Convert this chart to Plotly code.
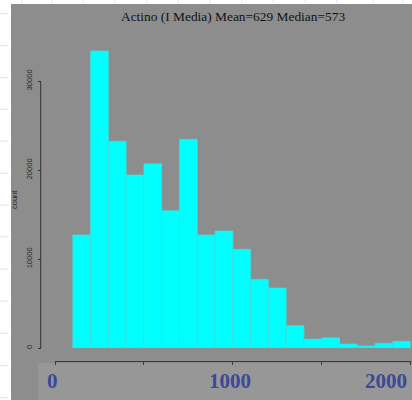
import plotly.graph_objects as go

# ---- data ----
bin_starts = [100, 200, 300, 400, 500, 600, 700, 800, 900, 1000,
              1100, 1200, 1300, 1400, 1500, 1600, 1700, 1800, 1900]
counts = [12700, 33370, 23230, 19440, 20700, 15430, 23450, 12700, 13150, 11090,
          7720, 6740, 2510, 1000, 1150, 450, 230, 530, 750]
bin_width = 100
title_text = "Actino (I Media) Mean=629 Median=573"
y_tick_vals = [0, 10000, 20000, 30000]
y_tick_text = ["0", "10000", "20000", "30000"]
x_tick_vals = [0, 500, 1000, 1500, 2000]
x_label_vals = [0, 1000, 2000]
x_label_text = ["0", "1000", "2000"]
y_title = "count"

W, H = 412, 400
def px(x):
    return x / W
def py(y):
    return 1 - y / H

# y scale: 0 -> 348px, 30000 -> 81px
y0_px, y30k_px, ytop_px = 348, 81, 40
scale = (y0_px - y30k_px) / 30000
y_max = (y0_px - ytop_px) / scale

centers = [s + bin_width / 2 for s in bin_starts]

fig = go.Figure()
fig.add_trace(go.Bar(
    x=centers, y=counts, width=[bin_width] * len(centers),
    marker=dict(color="#00ffff", line=dict(color="#3fdcdc", width=0.8)),
    showlegend=False, hoverinfo="skip",
))

shapes = []
# slide gray panel
shapes.append(dict(type="rect", xref="paper", yref="paper", x0=px(11), x1=1.0,
                   y0=0, y1=py(4), fillcolor="#8d8d8d", line=dict(width=0), layer="below"))
# lighter label box at bottom
shapes.append(dict(type="rect", xref="paper", yref="paper", x0=px(38), x1=1.0,
                   y0=0, y1=py(363), fillcolor="#979797", line=dict(width=0), layer="below"))
# slide grid dashes in white margins
for yy in [13.7, 45.7, 77.7, 109.3, 141, 173.3, 205, 236.7, 269, 301, 333.3, 365.7, 397.7]:
    shapes.append(dict(type="line", xref="paper", yref="paper", x0=0, x1=px(10.5),
                       y0=py(yy), y1=py(yy), line=dict(color="#e2e2f6", width=1, dash="dash"),
                       layer="below"))
for xx in [21.7, 51.7, 83.4, 115, 146.7, 178.4, 210, 241.7, 273.4, 305, 336.7, 373, 403]:
    shapes.append(dict(type="line", xref="paper", yref="paper", x0=px(xx), x1=px(xx),
                       y0=1, y1=py(4), line=dict(color="#e2e2f6", width=1, dash="dot"),
                       layer="below"))
# y axis line (0..30000)
shapes.append(dict(type="line", xref="paper", yref="y", x0=px(40.7), x1=px(40.7),
                   y0=y_tick_vals[0], y1=y_tick_vals[-1], line=dict(color="#333333", width=1)))

annotations = [
    dict(text=title_text, xref="paper", yref="paper", x=px(232.5), y=py(16),
         xanchor="center", yanchor="middle", showarrow=False,
         font=dict(family="Liberation Serif", size=13.4, color="#111111")),
    dict(text=y_title, xref="paper", yref="paper", x=px(14), y=py(200),
         xanchor="center", yanchor="middle", showarrow=False, textangle=-90,
         font=dict(family="Liberation Sans", size=7.5, color="#222222")),
]
for v, t in zip(x_label_vals, x_label_text):
    last = v == x_label_vals[-1]
    annotations.append(dict(
        text="<b>%s</b>" % t, xref="x", yref="paper", x=v, y=py(381),
        xanchor="right" if last else "center", yanchor="middle", showarrow=False,
        xshift=-2 if last else -2.5,
        font=dict(family="Liberation Serif", size=21, color="#3c4899")))

fig.update_layout(
    width=W, height=H,
    margin=dict(l=0, r=0, t=0, b=0),
    paper_bgcolor="white",
    plot_bgcolor="rgba(0,0,0,0)",
    bargap=0.06,
    shapes=shapes,
    annotations=annotations,
    xaxis=dict(domain=[px(55), px(410.6)], range=[0, 2000], anchor="free",
               position=py(361), showline=True, linecolor="#3a3a3a", linewidth=1,
               ticks="outside", ticklen=3, tickcolor="#3a3a3a", tickvals=x_tick_vals,
               showticklabels=False, showgrid=False, zeroline=False),
    yaxis=dict(domain=[py(y0_px), py(ytop_px)], range=[0, y_max], anchor="free",
               position=px(40.7), showline=False, ticks="outside", ticklen=3,
               tickcolor="#333333", tickvals=y_tick_vals, ticktext=y_tick_text,
               tickangle=-90, ticklabelstandoff=3,
               tickfont=dict(family="Liberation Sans", size=7.5, color="#222222"),
               showgrid=False, zeroline=False),
)

fig.write_html("out.html")
